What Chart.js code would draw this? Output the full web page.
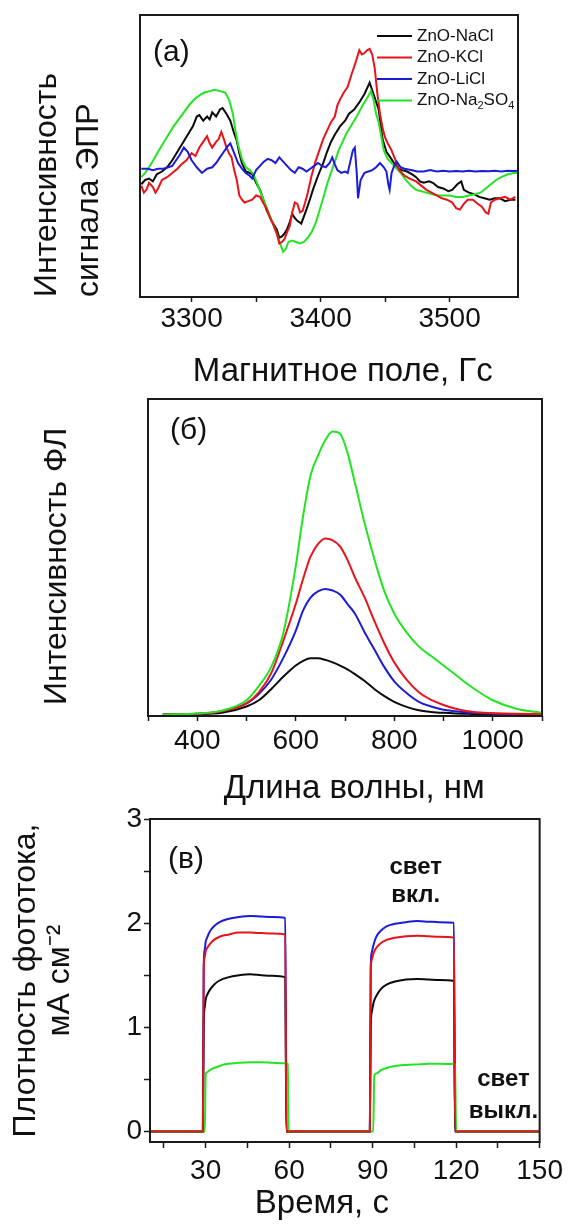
<!DOCTYPE html>
<html>
<head>
<meta charset="utf-8">
<script src="https://cdn.jsdelivr.net/npm/chart.js@4.4.1/dist/chart.umd.min.js"></script>
<style>
  body { margin: 0; background: #fff; width: 569px; height: 1229px; position: relative; overflow: hidden; }
  canvas { position: absolute; left: 0; }
</style>
</head>
<body>
<canvas id="epr" width="569" height="400" style="top:0px"></canvas>
<canvas id="pl" width="569" height="430" style="top:390px"></canvas>
<canvas id="jph" width="569" height="434" style="top:795px"></canvas>
<script>
const FONT = '"Liberation Sans", Arial, Helvetica, sans-serif';
Chart.defaults.font.family = FONT;
Chart.defaults.color = '#111';

const sampleNames = ['ZnO-NaCl', 'ZnO-KCl', 'ZnO-LiCl', 'ZnO-Na2SO4'];
const sampleColors = ['#0a0a0a', '#e8141a', '#1c1cd8', '#22e422'];

// ---- (a) EPR spectra, field in Gs, intensity in arbitrary units ----
const eprFieldNaCl = [3261,3264,3267,3270,3273,3277,3281,3285,3289,3293,3297,3301,3304,3306,3309,3312,3314,3316,3319,3322,3324,3327,3330,3333,3335,3337,3339,3342,3345,3347,3350,3353,3356,3358,3362,3366,3368,3370,3372,3374,3376,3378,3380,3382,3385,3387,3389,3392,3394,3398,3402,3405,3408,3411,3415,3419,3422,3426,3430,3434,3438,3441,3445,3448,3451,3454,3459,3463,3467,3471,3474,3477,3480,3484,3487,3491,3495,3499,3502,3506,3509,3511,3515,3519,3523,3527,3531,3535,3539,3543,3547,3551];
const eprNaCl = [40,41.5,42,41,43.5,44.5,46,48.5,51.5,54.5,57.5,60.5,64,64.5,62.5,64,63,65.5,64,66.5,67,65,62.5,58,55.5,51,47.5,44.5,44,43.5,40.5,38,34,31,27,24,21,21.5,22.5,24,26.5,29.5,28,27,26,28.5,31,35,38,43,47.5,51.5,55,57.5,60.5,62.5,65,66.5,69,72,76,72,66.5,56,51.5,49.5,46,45,44.5,43.5,42.5,41,40.5,41,40.5,39,38.5,37.5,38,40,41,38,37,36.5,35.5,35,34.5,35,35,34,34.5,34.5];

const eprFieldKCl = [3261,3263,3265,3267,3270,3272,3274,3277,3281,3285,3289,3292,3296,3300,3303,3306,3309,3312,3314,3316,3319,3321,3323,3325,3327,3329,3331,3333,3335,3337,3339,3341,3344,3347,3350,3353,3356,3358,3361,3363,3366,3368,3370,3372,3374,3376,3378,3380,3382,3384,3386,3388,3390,3393,3396,3399,3402,3405,3408,3411,3413,3415,3418,3421,3424,3427,3430,3432,3434,3436,3438,3440,3442,3444,3446,3448,3450,3452,3455,3458,3461,3465,3469,3474,3478,3482,3486,3490,3494,3498,3502,3505,3508,3511,3514,3518,3522,3525,3528,3530,3532,3535,3539,3543,3547,3551];
const eprKCl = [39.5,37,38,40.5,39,37,38.5,41.5,42.5,44,45.5,47,48.5,51,50,53,55,57,54.5,53,55,56,58.5,56,53,51,49.5,45,41.5,36,34.5,33.5,34,34.5,36,35.5,33,31.5,28,26,22.5,19,19.5,20.5,23,25,30,33.5,33,30,30.5,33.5,37,43,48,52,56,59,62,64,68,70,72.5,74.5,79,83,87.5,86,86.5,87.5,88,86,81,72,65,60,56.5,54.5,52,48.5,45,43,42,41,39.5,38,37,36,35,34.5,33.5,31.5,31,33,34.5,34.5,33,32,30,29.5,33.5,34.5,35,35.5,34.5,35.5];

const eprFieldLiCl = [3261,3266,3270,3274,3278,3282,3285,3288,3291,3294,3297,3300,3304,3308,3312,3316,3319,3322,3325,3328,3330,3333,3336,3339,3342,3345,3347,3350,3353,3356,3359,3362,3365,3368,3371,3374,3377,3380,3383,3386,3389,3392,3395,3398,3401,3404,3407,3409,3411,3413,3416,3419,3421,3423,3425,3426.5,3428,3429,3431,3434,3437,3440,3443,3446,3449,3451,3452.5,3453.5,3455,3457,3459,3462,3465,3470,3475,3480,3485,3490,3495,3500,3505,3510,3515,3520,3525,3530,3535,3540,3545,3550,3555];
const eprLiCl = [45.5,45.5,45,45.5,45.5,46,46.5,48.5,50.5,53,51.5,48.5,46,44,45.5,46,47.5,49.5,51.5,53.5,54.5,51,47.5,45.5,44,43,42,45,46.5,48,49,48.5,47.5,49.5,48,46.5,45,44,46,45.5,44.5,45.5,46.5,47.5,46.5,46,47.5,49.5,47,45,44,44.5,44,48,52,53,44,35,41.5,44,44.5,45,46,47.5,46,44.5,40,38,44,46.5,48,46,45.5,45,44.5,44.5,45,44.5,44.8,44.5,44.7,44.5,44.8,44.5,44.7,44.6,44.8,44.5,44.8,44.7,44.8];

const eprFieldNa2SO4 = [3261,3264,3267,3271,3274,3278,3282,3286,3290,3294,3298,3302,3306,3310,3314,3318,3322,3326,3329,3332,3334,3336,3339,3342,3345,3348,3351,3354,3357,3360,3363,3366,3369,3371,3373,3375,3378,3381,3384,3387,3390,3393,3396,3399,3402,3405,3408,3411,3414,3417,3420,3424,3428,3432,3436,3439,3441,3443,3445,3447,3449,3452,3455,3458,3462,3466,3470,3474,3478,3482,3486,3490,3495,3500,3505,3510,3515,3520,3524,3528,3532,3536,3540,3545,3550,3554];
const eprNa2SO4 = [42.5,44,46,49,51.5,54.5,57.5,60.5,63,65.5,68,70,71.5,72.5,73,73.5,73,72.5,70,65,59,54,49,46,45,43.5,40,36.5,33,29.5,26,22.5,18.5,16,17,19.5,20,19.5,19,19.5,21,23,26,30.5,35,40,44,48,52,55,58,61,64,67.5,70.5,73,70,65,62,57,52,49,47.5,46,44,41.5,39.5,38,37.5,37,36.5,36,36,36,35.5,35.5,36,36.5,37,38.5,40,41.5,42.5,43.5,44,44];

const eprTicks = [3300, 3400, 3500];

// ---- (b) photoluminescence, wavelength in nm ----
const plWave = [330,400,450,500,525,550,575,600,615,630,645,660,675,690,705,720,740,760,780,800,825,850,875,900,925,950,975,1000,1050,1100];
const plNaCl = [0,0.001,0.005,0.025,0.045,0.08,0.12,0.155,0.17,0.178,0.178,0.173,0.165,0.155,0.143,0.128,0.106,0.08,0.058,0.04,0.024,0.013,0.008,0.005,0.003,0.002,0.001,0.001,0,0];
const plKCl = [0,0.002,0.01,0.035,0.07,0.13,0.235,0.35,0.43,0.5,0.54,0.558,0.552,0.533,0.49,0.435,0.37,0.295,0.225,0.165,0.11,0.07,0.046,0.03,0.018,0.01,0.006,0.004,0.002,0.001];
const plLiCl = [0,0.002,0.01,0.035,0.065,0.11,0.18,0.265,0.33,0.37,0.39,0.398,0.393,0.38,0.35,0.32,0.26,0.205,0.15,0.105,0.068,0.04,0.025,0.015,0.01,0.006,0.004,0.003,0.001,0];
const plNa2SO4 = [0,0.003,0.012,0.045,0.09,0.15,0.26,0.47,0.63,0.757,0.82,0.87,0.897,0.89,0.83,0.735,0.605,0.49,0.39,0.32,0.26,0.215,0.185,0.155,0.125,0.095,0.068,0.045,0.017,0.005];

// ---- (c) photocurrent on/off cycles, time in s, mA/cm2 ----
const tSec = [10,29,29.3,29.7,30,30.5,31.5,33,35,38,42,46,50,54,58.6,59,59.5,59.8,89,89.3,89.7,90.2,90.6,91.5,93,95,98,102,106,110,114,119.2,119.6,120,150];
const jNaCl = [0,0,1.05,1.2,1.27,1.31,1.36,1.41,1.45,1.48,1.5,1.51,1.5,1.495,1.48,0,0,0,0,1.0,1.15,1.22,1.26,1.31,1.37,1.41,1.44,1.46,1.465,1.46,1.455,1.445,0,0,0];
const jKCl = [0,0,1.55,1.68,1.73,1.76,1.8,1.84,1.87,1.89,1.91,1.91,1.905,1.9,1.89,0,0,0,0,1.52,1.65,1.7,1.73,1.77,1.81,1.84,1.86,1.875,1.88,1.875,1.87,1.86,0,0,0];
const jLiCl = [0,0,1.6,1.75,1.82,1.86,1.92,1.97,2.01,2.04,2.06,2.07,2.065,2.06,2.05,0,0,0,0,1.58,1.72,1.78,1.82,1.88,1.93,1.97,1.995,2.01,2.02,2.015,2.01,2.005,0,0,0];
const jNa2SO4 = [0,0,0,0,0.55,0.57,0.59,0.61,0.63,0.65,0.66,0.665,0.665,0.66,0.655,0.655,0.65,0,0,0,0,0,0.54,0.56,0.59,0.61,0.63,0.64,0.645,0.65,0.65,0.648,0.645,0,0];

const lightNotes = [
  { text: 'свет', t: 105.5, j: 2.54 },
  { text: 'вкл.', t: 105.5, j: 2.27 },
  { text: 'свет', t: 137, j: 0.5 },
  { text: 'выкл.', t: 137, j: 0.19 }
];

function pairs(xs, ys) {
  return xs.map((x, i) => ({ x: x, y: ys[i] }));
}

function lineSet(idx, xs, ys, order, smooth) {
  return {
    label: sampleNames[idx],
    data: pairs(xs, ys),
    borderColor: sampleColors[idx],
    borderWidth: 2,
    pointRadius: 0,
    fill: false,
    cubicInterpolationMode: smooth ? 'monotone' : 'default',
    tension: 0,
    order: order
  };
}

// text with digits after a letter set as subscripts (Na2SO4)
function drawSubscripted(ctx, text, x, y, size) {
  let cx = x;
  for (let i = 0; i < text.length; i++) {
    const ch = text[i];
    const sub = /\d/.test(ch) && i > 0 && /[A-Za-z]/.test(text[i - 1]);
    ctx.font = (sub ? Math.round(size * 0.65) : size) + 'px ' + FONT;
    ctx.fillText(ch, cx, sub ? y + size * 0.3 : y);
    cx += ctx.measureText(ch).width;
  }
}

// box around the plot area
const framePlugin = {
  id: 'frame',
  afterDatasetsDraw(chart) {
    const { ctx, chartArea: a } = chart;
    ctx.save();
    ctx.strokeStyle = '#1a1a1a';
    ctx.lineWidth = 2;
    ctx.strokeRect(a.left, a.top, a.right - a.left, a.bottom - a.top);
    ctx.restore();
  }
};

// panel letter in the upper left corner
const tagPlugin = {
  id: 'tag',
  afterDraw(chart, args, opts) {
    if (!opts.text) return;
    const { ctx, chartArea: a } = chart;
    ctx.save();
    ctx.font = '30px ' + FONT;
    ctx.fillStyle = '#111';
    ctx.textBaseline = 'middle';
    ctx.fillText(opts.text, a.left + opts.dx, a.top + opts.dy);
    ctx.restore();
  }
};

// legend drawn inside the plot area, upper right
const insideLegend = {
  id: 'insideLegend',
  afterDraw(chart) {
    const { ctx, chartArea: a } = chart;
    ctx.save();
    ctx.textBaseline = 'middle';
    chart.data.datasets.forEach((ds, i) => {
      const y = a.top + 21 + i * 21.5;
      ctx.strokeStyle = ds.borderColor;
      ctx.lineWidth = 2;
      ctx.beginPath();
      ctx.moveTo(a.right - 141, y);
      ctx.lineTo(a.right - 106, y);
      ctx.stroke();
      ctx.fillStyle = '#111';
      drawSubscripted(ctx, ds.label, a.right - 101, y, 17);
    });
    ctx.restore();
  }
};

// "свет вкл." / "свет выкл." notes placed in data coordinates
const notesPlugin = {
  id: 'notes',
  afterDraw(chart) {
    const { ctx, scales } = chart;
    ctx.save();
    ctx.font = 'bold 24px ' + FONT;
    ctx.fillStyle = '#111';
    ctx.textAlign = 'center';
    ctx.textBaseline = 'middle';
    lightNotes.forEach(n => {
      ctx.fillText(n.text, scales.x.getPixelForValue(n.t), scales.y.getPixelForValue(n.j));
    });
    ctx.restore();
  }
};

function tickGrid(len) {
  return { display: true, drawOnChartArea: false, drawTicks: true, tickLength: len, tickColor: '#1a1a1a', tickWidth: 1.5 };
}

const hideGrid = { display: false };

// (a) EPR
new Chart(document.getElementById('epr'), {
  type: 'line',
  data: {
    datasets: [
      lineSet(0, eprFieldNaCl, eprNaCl, 3),
      lineSet(1, eprFieldKCl, eprKCl, 1),
      lineSet(2, eprFieldLiCl, eprLiCl, 0),
      lineSet(3, eprFieldNa2SO4, eprNa2SO4, 2)
    ]
  },
  options: {
    responsive: false,
    animation: false,
    layout: { padding: { left: 0, top: 15, right: 51, bottom: 0 } },
    plugins: { legend: { display: false }, tooltip: { enabled: false }, tag: { text: '(a)', dx: 13, dy: 38 } },
    scales: {
      x: {
        type: 'linear', min: 3260, max: 3553,
        border: { display: false },
        grid: tickGrid(5),
        afterBuildTicks: s => { s.ticks = s.ticks.filter(t => t.value % 50 === 0 && t.value < 3540); },
        afterFit: s => { s.height = 103; },
        ticks: { stepSize: 50, includeBounds: false, autoSkip: false, maxRotation: 0, minRotation: 0, padding: 0,
          font: { size: 28 }, callback: v => eprTicks.includes(v) ? String(v) : '' },
        title: { display: true, text: '   Магнитное поле, Гс', font: { size: 33 }, padding: { top: 0, bottom: 8 } }
      },
      y: {
        min: 0, max: 100,
        border: { display: false },
        grid: hideGrid,
        ticks: { display: false },
        afterFit: s => { s.width = 140; },
        title: { display: true, align: 'start', text: ['Интенсивность', 'сигнала ЭПР'],
          font: { size: 32, lineHeight: 1.31 }, padding: { top: 26, bottom: 0 } }
      }
    }
  },
  plugins: [framePlugin, tagPlugin, insideLegend]
});

// (b) PL
new Chart(document.getElementById('pl'), {
  type: 'line',
  data: {
    datasets: [
      lineSet(0, plWave, plNaCl, 3, true),
      lineSet(1, plWave, plKCl, 1, true),
      lineSet(2, plWave, plLiCl, 2, true),
      lineSet(3, plWave, plNa2SO4, 0, true)
    ]
  },
  options: {
    responsive: false,
    animation: false,
    layout: { padding: { left: 0, top: 9, right: 27, bottom: 0 } },
    plugins: { legend: { display: false }, tooltip: { enabled: false }, tag: { text: '(б)', dx: 22, dy: 32 } },
    scales: {
      x: {
        type: 'linear', min: 300, max: 1100,
        border: { display: false },
        grid: tickGrid(5),
        afterFit: s => { s.height = 104; },
        ticks: { stepSize: 100, includeBounds: false, autoSkip: false, maxRotation: 0, minRotation: 0, padding: 3,
          font: { size: 28 }, callback: v => (v % 200 === 0 && v > 300 && v < 1100) ? String(v) : '' },
        title: { display: true, text: '  Длина волны, нм', font: { size: 33 }, padding: { top: 0, bottom: 11 } }
      },
      y: {
        min: -0.005, max: 1,
        border: { display: false },
        grid: hideGrid,
        ticks: { display: false },
        afterFit: s => { s.width = 148; },
        title: { display: true, text: 'Интенсивность ФЛ  ', font: { size: 32 }, padding: { top: 38, bottom: 0 } }
      }
    }
  },
  plugins: [framePlugin, tagPlugin]
});

// (c) photocurrent
new Chart(document.getElementById('jph'), {
  type: 'line',
  data: {
    datasets: [
      lineSet(0, tSec, jNaCl, 2, true),
      lineSet(1, tSec, jKCl, 0, true),
      lineSet(2, tSec, jLiCl, 3, true),
      lineSet(3, tSec, jNa2SO4, 1, true)
    ]
  },
  options: {
    responsive: false,
    animation: false,
    layout: { padding: { left: 0, top: 24, right: 27, bottom: 0 } },
    plugins: { legend: { display: false }, tooltip: { enabled: false }, tag: { text: '(в)', dx: 18, dy: 41 } },
    scales: {
      x: {
        type: 'linear', min: 10, max: 150,
        border: { display: false },
        grid: tickGrid(6),
        afterBuildTicks: s => { s.ticks = s.ticks.filter(t => t.value % 15 === 0); },
        afterFit: s => { s.height = 87; },
        ticks: { stepSize: 15, includeBounds: false, autoSkip: false, maxRotation: 0, minRotation: 0, padding: 6,
          font: { size: 28 }, callback: v => v % 30 === 0 ? String(v) : '' },
        title: { display: true, text: 'Время, с     ', font: { size: 33 }, padding: { top: 0, bottom: 5 } }
      },
      y: {
        min: -0.1, max: 3,
        border: { display: false },
        grid: tickGrid(6),
        afterBuildTicks: s => { s.ticks = s.ticks.filter(t => t.value >= 0 && Math.abs(t.value * 2 - Math.round(t.value * 2)) < 1e-6); },
        afterFit: s => { s.width = 150; },
        ticks: { stepSize: 0.5, includeBounds: false, autoSkip: false, padding: 2,
          font: { size: 28 }, callback: v => Number.isInteger(v) ? String(v) : '' },
        title: { display: true, text: ['Плотность фототока,', 'мА см⁻²'],
          font: { size: 32, lineHeight: 1.06 }, padding: { top: 9, bottom: 0 } }
      }
    }
  },
  plugins: [framePlugin, tagPlugin, notesPlugin]
});
</script>
</body>
</html>
